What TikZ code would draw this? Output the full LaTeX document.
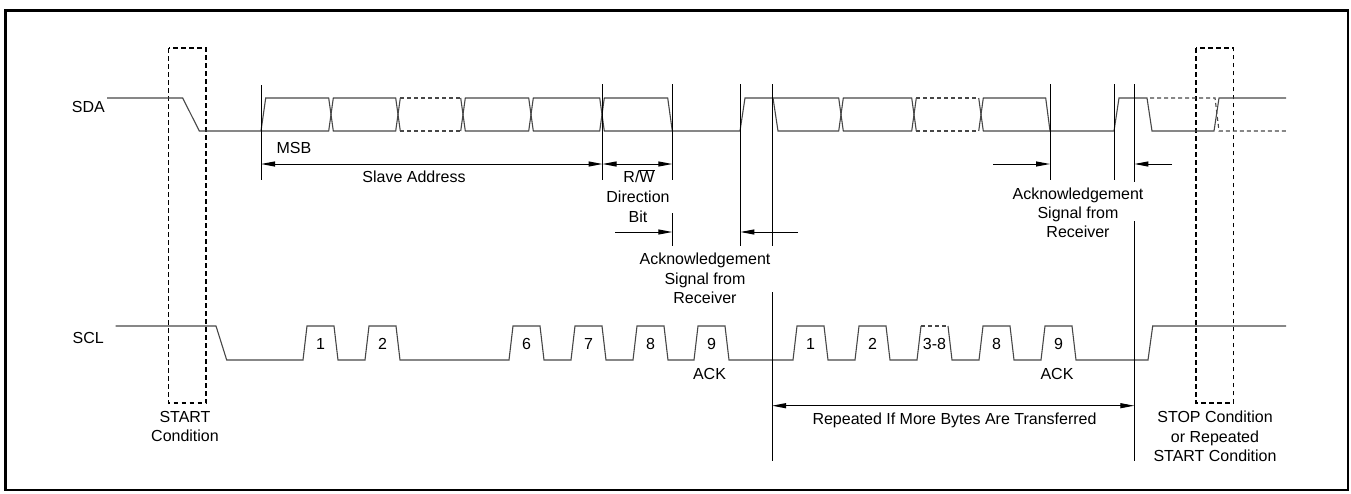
\documentclass[tikz,border=0pt]{standalone}
\usepackage{fontspec}
\setmainfont{Liberation Sans}
\usetikzlibrary{arrows.meta}
\begin{document}
\begin{tikzpicture}[x=1pt,y=-1pt,
  sig/.style={line width=1.1pt, draw=black!72, line join=miter},
  sigd/.style={sig, dash pattern=on 4pt off 3pt},
  guide/.style={line width=1pt, draw=black},
  dbox/.style={line width=1.3pt, draw=black, dash pattern=on 4.5pt off 3.5pt},
  frame/.style={line width=2.5pt, draw=black},
  lbl/.style={font=\fontsize{16}{19}\selectfont, inner sep=0pt, anchor=base},
  arr/.style={line width=1pt, -{Triangle[length=14pt,width=5pt]}},
  darr/.style={line width=1pt, {Triangle[length=14pt,width=5pt]}-{Triangle[length=14pt,width=5pt]}}
]
\useasboundingbox (0,0) rectangle (1351,493);
\draw[frame] (5.3,10.3) rectangle (1348,490);

% dashed START / STOP boxes
\draw[dbox] (168.5,48) rectangle (206,403);
\draw[dbox] (1196,48) rectangle (1233.3,403);

% ---------------- SDA ----------------
\node[lbl, anchor=base east] (sda) at (105,112.7) {SDA};
\draw[sig] (107,98)--(182.7,98)--(199.3,131)--(328.7,131)--(333.3,98)--(395.7,98)--(400.3,131);
\draw[sig] (261,131)--(265.7,98)--(328.7,98)--(333.3,131)--(395.7,131)--(400.3,98);
\draw[sigd] (400.3,98)--(460.7,98) (400.3,131)--(460.7,131);
\draw[sig] (460.7,98)--(465.3,131)--(528.7,131)--(533.3,98)--(599.7,98)--(604.3,131)--(740,131)--(745,98)--(838.7,98)--(843.3,131)--(911.7,131)--(916.3,98);
\draw[sig] (460.7,131)--(465.3,98)--(528.7,98)--(533.3,131)--(599.7,131)--(604.3,98)--(667.7,98)--(672.3,131);
\draw[sig] (773,98)--(778,131)--(838.7,131)--(843.3,98)--(911.7,98)--(916.3,131);
\draw[sigd] (916.3,98)--(978.7,98) (916.3,131)--(978.7,131);
\draw[sig] (978.7,98)--(983.3,131)--(1045.7,131)--(1050,131);
\draw[sig] (978.7,131)--(983.3,98)--(1045.7,98)--(1050,131)--(1114,131)--(1119,98)--(1147,98)--(1152,131)--(1214,131)--(1219,98)--(1286,98);
\draw[sigd] (1150,98)--(1215,98)--(1219,131)--(1286,131);

% ---------------- SCL ----------------
\node[lbl, anchor=base east] (scl) at (104,343) {SCL};
\draw[sig] (115.7,326)--(216,326)--(226.7,360)
  foreach \b in {303,365,509,571,633,694,793,855} { --(\b,360)--(\b+4,326)--(\b+31,326)--(\b+35,360) }
  --(917,360)--(921,326);
\draw[sigd] (921,326)--(948,326);
\draw[sig] (948,326)--(952,360)
  foreach \b in {979,1041} { --(\b,360)--(\b+4,326)--(\b+31,326)--(\b+35,360) }
  --(1148,360)--(1152.7,326)--(1286,326);

\foreach \b/\t/\n in {303/1/p1,365/2/p2,509/6/p6,571/7/p7,633/8/p8,694/9/p9,793/1/q1,855/2/q2,917/3-8/q3,979/8/q8,1041/9/q9}
  \node[lbl] (\n) at (\b+17.5,349) {\t};
\node[lbl] (ack1) at (709.5,379) {ACK};
\node[lbl] (ack2) at (1057,379) {ACK};

% ---------------- guide lines ----------------
\coordinate (g1a) at (261,85);   \coordinate (g1b) at (261,180);
\coordinate (g2a) at (602.5,84); \coordinate (g2b) at (602.5,180);
\coordinate (g3a) at (672.3,84); \coordinate (g3b) at (672.3,180);
\coordinate (g3c) at (672.3,213);\coordinate (g3d) at (672.3,246);
\coordinate (g4a) at (740.3,84); \coordinate (g4b) at (740.3,246);
\coordinate (g5a) at (772,84);   \coordinate (g5b) at (772,246);
\coordinate (g5c) at (772,292);  \coordinate (g5d) at (772,461);
\coordinate (g6a) at (1050,84);  \coordinate (g6b) at (1050,180);
\coordinate (g7a) at (1114.3,84);\coordinate (g7b) at (1114.3,180);
\coordinate (g8a) at (1134.3,84);\coordinate (g8b) at (1134.3,182);
\coordinate (g8c) at (1134.3,221);\coordinate (g8d) at (1134.3,461);
\draw[guide] (g1a)--(g1b) (g2a)--(g2b) (g3a)--(g3b) (g3c)--(g3d) (g4a)--(g4b)
  (g5a)--(g5b) (g5c)--(g5d) (g6a)--(g6b) (g7a)--(g7b) (g8a)--(g8b) (g8c)--(g8d);

% ---------------- arrows ----------------
\coordinate (sa1) at (261,164);  \coordinate (sa2) at (602.5,164);
\coordinate (rw1) at (602.5,164); \coordinate (rw2) at (672.3,164);
\draw[darr] (sa1)--(sa2);
\draw[darr] (rw1)--(rw2);
\coordinate (a1s) at (615,232);  \coordinate (a1e) at (672.3,232);
\coordinate (a2s) at (798,232);  \coordinate (a2e) at (740.3,232);
\coordinate (a3s) at (993,164);  \coordinate (a3e) at (1050,164);
\coordinate (a4s) at (1172,164); \coordinate (a4e) at (1134.3,164);
\draw[arr] (a1s)--(a1e);
\draw[arr] (a2s)--(a2e);
\draw[arr] (a3s)--(a3e);
\draw[arr] (a4s)--(a4e);
\coordinate (rp1) at (772,405.7); \coordinate (rp2) at (1134.3,405.7);
\draw[darr] (rp1)--(rp2);

% ---------------- texts ----------------
\node[lbl] (msb) at (294,153) {MSB};
\node[lbl] (slave) at (414,182.4) {Slave Address};
\node[lbl] (rw) at (639,182.7) {R/$\overline{\mbox{W}}$};
\node[lbl] (dir1) at (638,202.7) {Direction};
\node[lbl] (dir2) at (638,222.4) {Bit};
\node[lbl] (k1a) at (705,264.7) {Acknowledgement};
\node[lbl] (k1b) at (705,284.4) {Signal from};
\node[lbl] (k1c) at (705,303.4) {Receiver};
\node[lbl] (k2a) at (1078,199.7) {Acknowledgement};
\node[lbl] (k2b) at (1078,218.7) {Signal from};
\node[lbl] (k2c) at (1078,237.7) {Receiver};
\node[lbl] (rep) at (954.5,424) {Repeated If More Bytes Are Transferred};
\node[lbl] (st1) at (185,422.4) {START};
\node[lbl] (st2) at (185,441.4) {Condition};
\node[lbl] (sp1) at (1215,422.4) {STOP Condition};
\node[lbl] (sp2) at (1215,442) {or Repeated};
\node[lbl] (sp3) at (1215,461.4) {START Condition};
\end{tikzpicture}
\end{document}
